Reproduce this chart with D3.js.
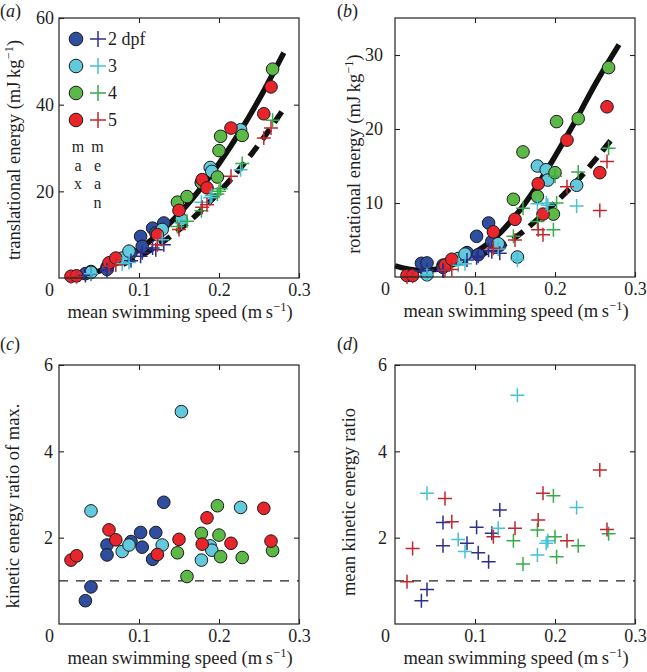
<!DOCTYPE html>
<html><head><meta charset="utf-8">
<script src="https://cdn.jsdelivr.net/npm/d3@7"></script>
<style>
body{margin:0;background:#fff}
svg{display:block}
text{font-family:"Liberation Serif","Times New Roman",serif;fill:#1e1e1e}
</style>
</head><body>
<svg id="chart" width="647" height="672"></svg>
<script>
// ---------- data ----------
const groupLabels = ["2 dpf", "3", "4", "5"];
const circleColors = ["#2f4ea0", "#63c9dd", "#5cb947", "#e8252b"];
const crossColors  = ["#2b2f8c", "#45c2d4", "#36ab4a", "#c3272e"];
const xTicks = [0, 0.1, 0.2, 0.3];

// 2 dpf
const speed2     = [0.033, 0.040, 0.060, 0.060, 0.090, 0.102, 0.104, 0.117, 0.121, 0.131];
const transMax2  = [1.0, 1.5, 2.5, 2.0, 5.8, 9.6, 7.3, 11.5, 10.4, 12.7];
const transMean2 = [0.6, 0.9, 1.9, 1.7, 4.0, 5.0, 5.8, 6.9, 6.5, 7.7];
const rotMax2    = [1.85, 1.9, 1.6, 1.3, 3.3, 5.5, 3.0, 7.3, 4.8, 4.3];
const rotMean2   = [0.8, 0.9, 0.9, 0.8, 2.3, 2.6, 2.8, 3.6, 3.4, 3.2];
const ratioMax2  = [0.54, 0.86, 1.83, 1.60, 1.91, 2.12, 1.78, 1.50, 2.12, 2.82];
const ratioMean2 = [0.54, 0.80, 2.35, 1.81, 1.87, 2.24, 1.65, 1.44, 2.10, 2.64];

// 3 dpf
const speed3     = [0.040, 0.079, 0.0875, 0.129, 0.153, 0.178, 0.189, 0.191, 0.227];
const transMax3  = [1.3, 4.6, 6.2, 11.2, 13.5, 22.0, 25.5, 24.6, 34.2];
const transMean3 = [1.0, 3.3, 3.6, 8.8, 12.7, 17.5, 18.5, 19.0, 25.0];
const rotMax3    = [0.3, 2.5, 3.1, 4.5, 2.7, 15.0, 14.5, 13.1, 12.4];
const rotMean3   = [0.3, 1.6, 1.8, 3.8, 2.3, 9.9, 10.0, 9.7, 9.6];
const ratioMax3  = [2.62, 1.68, 1.83, 1.83, 4.92, 1.48, 1.81, 1.71, 2.70];
const ratioMean3 = [3.03, 1.96, 1.68, 2.22, 5.30, 1.60, 1.87, 1.93, 2.70];

// 4 dpf
const speed4     = [0.148, 0.160, 0.178, 0.198, 0.200, 0.202, 0.229, 0.267];
const transMax4  = [17.5, 18.8, 22.0, 23.3, 29.4, 32.7, 32.9, 48.2];
const transMean4 = [11.9, 13.1, 15.5, 19.4, 20.0, 20.6, 26.4, 36.4];
const rotMax4    = [10.5, 16.9, 10.9, 8.5, 14.1, 21.0, 21.4, 28.3];
const rotMean4   = [5.5, 9.3, 7.5, 6.4, 13.6, 10.0, 14.2, 17.4];
const ratioMax4  = [1.65, 1.10, 2.10, 2.74, 2.06, 1.56, 1.54, 1.70];
const ratioMean4 = [1.93, 1.39, 2.18, 2.97, 2.02, 1.56, 1.81, 2.09];

// 5 dpf
const speed5     = [0.015, 0.022, 0.0625, 0.071, 0.123, 0.150, 0.179, 0.185, 0.215, 0.256, 0.265];
const transMax5  = [0.4, 0.5, 3.5, 4.6, 10.0, 15.6, 22.7, 20.8, 34.6, 37.9, 44.1];
const transMean5 = [0.3, 0.3, 2.7, 3.0, 7.7, 11.2, 16.3, 16.9, 23.5, 32.3, 34.6];
const rotMax5    = [0.2, 0.2, 1.6, 2.4, 6.1, 7.8, 12.6, 8.5, 18.5, 14.1, 23.0];
const rotMean5   = [0.0, 0.1, 0.9, 1.0, 3.9, 5.0, 6.4, 5.7, 12.2, 9.0, 15.6];
const ratioMax5  = [1.48, 1.58, 2.18, 1.95, 1.61, 1.96, 1.85, 2.46, 1.87, 2.68, 1.92];
const ratioMean5 = [0.98, 1.75, 2.91, 2.37, 2.02, 2.22, 2.41, 3.03, 1.93, 3.57, 2.19];

// fitted curves [speed, energy]
const transFitMax  = [[0.02,0.3],[0.05,1.6],[0.075,3.7],[0.1,6.6],[0.125,10.3],[0.15,14.8],[0.175,20.2],[0.2,26.4],[0.225,33.4],[0.25,41.2],[0.281,52]];
const transFitMean = [[0.08,3.2],[0.1,4.9],[0.125,7.7],[0.15,11.1],[0.175,15.1],[0.2,19.8],[0.225,25.0],[0.25,30.9],[0.283,39.6]];
const rotFitMax    = [[0.0,1.5],[0.03,0.9],[0.05,1.0],[0.075,1.8],[0.1,3.3],[0.125,5.3],[0.15,8.2],[0.175,11.9],[0.2,16.3],[0.225,21.0],[0.25,26.0],[0.28,31.4]];
const rotFitMean   = [[0.05,1.0],[0.1,2.7],[0.15,5.3],[0.175,7.5],[0.2,10.0],[0.225,12.7],[0.25,15.8],[0.275,19.2]];
const referenceRatio = 1;

// ---------- build ----------
const groups = [
  {speed: speed2, transMax: transMax2, transMean: transMean2, rotMax: rotMax2, rotMean: rotMean2, ratioMax: ratioMax2, ratioMean: ratioMean2},
  {speed: speed3, transMax: transMax3, transMean: transMean3, rotMax: rotMax3, rotMean: rotMean3, ratioMax: ratioMax3, ratioMean: ratioMean3},
  {speed: speed4, transMax: transMax4, transMean: transMean4, rotMax: rotMax4, rotMean: rotMean4, ratioMax: ratioMax4, ratioMean: ratioMean4},
  {speed: speed5, transMax: transMax5, transMean: transMean5, rotMax: rotMax5, rotMean: rotMean5, ratioMax: ratioMax5, ratioMean: ratioMean5}
];

const svg = d3.select("#chart");
const FS = 18;
const LFS = 18.5;
const FONT = '"Liberation Serif","Times New Roman",serif';
const crossPath = h => `M${-h},0H${h}M0,${-h}V${h}`;

function panel(cfg) {
  const {box} = cfg;
  const x = d3.scaleLinear([0, 0.3], [box.x0, box.x1]);
  const y = d3.scaleLinear(cfg.yDomain, [box.y1, box.y0]);
  const g = svg.append("g");

  (cfg.fits || []).forEach(f => {
    g.append("path").datum(f.pts)
      .attr("d", d3.line().x(d => x(d[0])).y(d => y(d[1])).curve(d3.curveMonotoneX))
      .attr("fill", "none").attr("stroke", "#111").attr("stroke-width", 5.5)
      .attr("stroke-dasharray", f.dash || null);
  });
  if (cfg.refLine) {
    g.append("line").attr("x1", box.x0).attr("x2", box.x1)
      .attr("y1", y(referenceRatio)).attr("y2", y(referenceRatio))
      .attr("stroke", "#222").attr("stroke-width", 1.1).attr("stroke-dasharray", "9,8");
  }
  if (cfg.circleKey) {
    groups.forEach((gr, gi) => {
      g.append("g").selectAll("circle").data(gr.speed).join("circle")
        .attr("cx", d => x(d)).attr("cy", (d, i) => y(gr[cfg.circleKey][i]))
        .attr("r", 6.3).attr("fill", circleColors[gi]).attr("stroke", "#1a1a1a").attr("stroke-width", 1);
    });
  }
  if (cfg.crossKey) {
    groups.forEach((gr, gi) => {
      g.append("g").selectAll("path").data(gr.speed).join("path")
        .attr("d", crossPath(7))
        .attr("transform", (d, i) => `translate(${x(d)},${y(gr[cfg.crossKey][i])})`)
        .attr("stroke", crossColors[gi]).attr("stroke-width", 1.5).attr("fill", "none");
    });
  }

  g.append("rect").attr("x", box.x0).attr("y", box.y0)
    .attr("width", box.x1 - box.x0).attr("height", box.y1 - box.y0)
    .attr("fill", "none").attr("stroke", "#222").attr("stroke-width", 1.2);

  const styleAxis = sel => {
    sel.attr("font-family", FONT).attr("font-size", FS);
    sel.select(".domain").remove();
    sel.selectAll("line").attr("stroke", "#222").attr("stroke-width", 1.1);
    sel.selectAll("text").attr("fill", "#1e1e1e");
  };
  const xb = g.append("g").attr("transform", `translate(0,${box.y1})`)
    .call(d3.axisBottom(x).tickValues(xTicks).tickSize(-5).tickPadding(5)
      .tickFormat(d => d === 0 ? "0" : d3.format(".1f")(d)));
  styleAxis(xb);
  xb.selectAll(".tick").filter(d => d === 0).select("line").remove();
  xb.selectAll(".tick").filter(d => d === 0).select("text").attr("x", -10);
  const xt = g.append("g").attr("transform", `translate(0,${box.y0})`)
    .call(d3.axisTop(x).tickValues(xTicks.slice(1, 3)).tickSize(-5).tickFormat(""));
  styleAxis(xt);
  const yl = g.append("g").attr("transform", `translate(${box.x0},0)`)
    .call(d3.axisLeft(y).tickValues(cfg.yTicks).tickSize(-5).tickPadding(cfg.yPad).tickFormat(d3.format("d")));
  styleAxis(yl);
  const yr = g.append("g").attr("transform", `translate(${box.x1},0)`)
    .call(d3.axisRight(y).tickValues(cfg.yTicks.filter(v => v < cfg.yDomain[1])).tickSize(-5).tickFormat(""));
  styleAxis(yr);

  const xlab = g.append("text").attr("x", (box.x0 + box.x1) / 2 + 1).attr("y", box.y1 + 39.5)
    .attr("text-anchor", "middle").attr("font-size", LFS);
  xlab.append("tspan").text("mean swimming speed (m\u2009s");
  xlab.append("tspan").attr("font-size", 12.5).attr("dy", -7).text("\u22121");
  xlab.append("tspan").attr("dy", 7).text(")");

  const ylab = g.append("text")
    .attr("transform", `translate(${cfg.ylx},${cfg.yly}) rotate(-90)`)
    .attr("text-anchor", "middle").attr("font-size", LFS);
  ylab.append("tspan").text(cfg.ylabel);
  if (cfg.ysup) {
    ylab.append("tspan").attr("font-size", 12.5).attr("dy", -7).text(cfg.ysup);
    ylab.append("tspan").attr("dy", 7).text(")");
  }

  const pl = g.append("text").attr("x", cfg.lx).attr("y", cfg.ly).attr("font-size", FS);
  pl.append("tspan").text("(");
  pl.append("tspan").attr("font-style", "italic").text(cfg.letter);
  pl.append("tspan").text(")");
  return {g, x, y};
}

const pa = panel({
  box: {x0: 59, x1: 299, y0: 18, y1: 278}, yDomain: [0, 60], yTicks: [20, 40, 60], yPad: 5,
  fits: [{pts: transFitMax}, {pts: transFitMean, dash: "13,8"}],
  circleKey: "transMax", crossKey: "transMean",
  ylabel: "translational energy (mJ\u2009kg", ysup: "\u22121", ylx: 20, yly: 150,
  letter: "a", lx: 0, ly: 17
});
panel({
  box: {x0: 395, x1: 635, y0: 18, y1: 277}, yDomain: [0, 35], yTicks: [10, 20, 30], yPad: 12,
  fits: [{pts: rotFitMax}, {pts: rotFitMean, dash: "13,8"}],
  circleKey: "rotMax", crossKey: "rotMean",
  ylabel: "rotational energy (mJ\u2009kg", ysup: "\u22121", ylx: 360, yly: 154,
  letter: "b", lx: 337, ly: 17
});
panel({
  box: {x0: 59, x1: 299, y0: 365, y1: 624}, yDomain: [0, 6], yTicks: [2, 4, 6], yPad: 6,
  refLine: true, circleKey: "ratioMax",
  ylabel: "kinetic energy ratio of max.", ylx: 19, yly: 506,
  letter: "c", lx: 0, ly: 350
});
panel({
  box: {x0: 395, x1: 635, y0: 365, y1: 624}, yDomain: [0, 6], yTicks: [2, 4, 6], yPad: 8,
  refLine: true, crossKey: "ratioMean",
  ylabel: "mean kinetic energy ratio", ylx: 355, yly: 502,
  letter: "d", lx: 337, ly: 350
});

// legend in panel (a)
const lg = pa.g.append("g");
groupLabels.forEach((lab, i) => {
  const yy = 39 + i * 27;
  lg.append("circle").attr("cx", 76).attr("cy", yy).attr("r", 6.8)
    .attr("fill", circleColors[i]).attr("stroke", "#1a1a1a").attr("stroke-width", 1);
  lg.append("path").attr("d", crossPath(8)).attr("transform", `translate(98,${yy})`)
    .attr("stroke", crossColors[i]).attr("stroke-width", 1.5);
  lg.append("text").attr("x", 108).attr("y", yy + 6).attr("font-size", FS).text(lab);
});
const maxLetters = ["m", "a", "x"];
const meanLetters = ["m", "e", "a", "n"];
maxLetters.forEach((c, i) => lg.append("text").attr("x", 78).attr("y", 152 + i * 18.5)
  .attr("text-anchor", "middle").attr("font-size", 16).text(c));
meanLetters.forEach((c, i) => lg.append("text").attr("x", 97.5).attr("y", 152 + i * 18.5)
  .attr("text-anchor", "middle").attr("font-size", 16).text(c));
</script>
</body></html>
